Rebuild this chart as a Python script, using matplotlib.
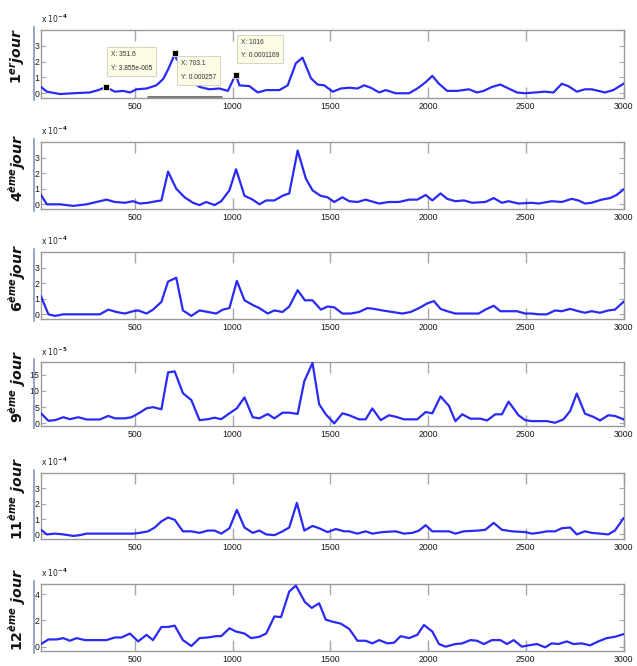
import matplotlib.pyplot as plt
from matplotlib.lines import Line2D

plt.rcParams['mathtext.fontset'] = 'custom'
plt.rcParams['mathtext.it'] = 'DejaVu Sans:italic:bold'
plt.rcParams['mathtext.rm'] = 'DejaVu Sans:bold'

# 1er jour (x 1e-4)
x_j1 = [20, 50, 117, 185, 270, 313, 352, 398, 440, 475, 509, 560, 610, 645, 670, 695, 703, 712,
        746, 789, 831, 882, 933, 976, 1001, 1016, 1035, 1086, 1129, 1172, 1240, 1282, 1324, 1358,
        1401, 1435, 1469, 1512, 1554, 1597, 1639, 1673, 1707, 1750, 1784, 1835, 1903, 1945, 1988,
        2022, 2056, 2098, 2149, 2209, 2251, 2285, 2327, 2370, 2412, 2455, 2497, 2548, 2599, 2642,
        2684, 2718, 2761, 2803, 2837, 2905, 2948, 3000]
y_j1 = [0.4, 0.1, -0.05, 0.0, 0.05, 0.2, 0.3855, 0.1, 0.15, 0.05, 0.25, 0.3, 0.5, 0.9, 1.5, 2.2, 2.57, 2.2,
        1.6, 0.8, 0.4, 0.25, 0.3, 0.15, 0.8, 1.169, 0.5, 0.45, 0.05, 0.2, 0.2, 0.5, 1.9, 2.25,
        0.95, 0.55, 0.5, 0.1, 0.3, 0.35, 0.3, 0.5, 0.35, 0.05, 0.2, 0.0, 0.0, 0.3, 0.7,
        1.1, 0.6, 0.15, 0.15, 0.25, 0.05, 0.15, 0.4, 0.55, 0.3, 0.05, 0.0, 0.05, 0.1, 0.05,
        0.6, 0.45, 0.1, 0.25, 0.25, 0.05, 0.2, 0.6]

# 4eme jour (x 1e-4)
x_j4 = [20, 50, 117, 185, 253, 304, 355, 398, 449, 491, 525, 568, 610, 636, 670, 712, 755, 797,
        831, 865, 908, 942, 984, 1018, 1061, 1103, 1137, 1172, 1214, 1256, 1290, 1333, 1375, 1409,
        1450, 1486, 1520, 1562, 1597, 1639, 1681, 1750, 1800, 1851, 1903, 1945, 1988, 2022, 2064,
        2098, 2140, 2183, 2226, 2293, 2336, 2378, 2412, 2463, 2531, 2565, 2633, 2684, 2735, 2769,
        2803, 2837, 2888, 2931, 2965, 3000]
y_j4 = [0.6, 0.0, 0.0, -0.1, 0.0, 0.15, 0.3, 0.15, 0.1, 0.2, 0.05, 0.1, 0.2, 0.25, 2.1, 1.0, 0.45, 0.1,
        -0.05, 0.15, -0.05, 0.2, 0.9, 2.25, 0.55, 0.3, 0.0, 0.25, 0.25, 0.55, 0.7, 3.45, 1.65, 0.9,
        0.55, 0.45, 0.15, 0.45, 0.2, 0.15, 0.3, 0.05, 0.15, 0.15, 0.3, 0.3, 0.6, 0.25, 0.7,
        0.35, 0.2, 0.25, 0.1, 0.15, 0.4, 0.1, 0.2, 0.05, 0.1, 0.05, 0.2, 0.15, 0.35, 0.25,
        0.05, 0.1, 0.3, 0.4, 0.6, 0.95]

# 6eme jour (x 1e-4)
x_j6 = [20, 58, 92, 134, 321, 364, 406, 449, 491, 517, 560, 593, 636, 670, 712, 746, 789, 831,
        874, 916, 950, 984, 1022, 1061, 1103, 1137, 1180, 1214, 1256, 1290, 1333, 1370, 1409, 1452,
        1486, 1520, 1562, 1605, 1647, 1690, 1724, 1766, 1817, 1869, 1911, 1954, 1996, 2030, 2064,
        2098, 2140, 2259, 2293, 2336, 2370, 2455, 2497, 2531, 2565, 2608, 2650, 2684, 2727, 2769,
        2803, 2837, 2880, 2922, 2956, 3000]
y_j6 = [1.15, 0.0, -0.1, 0.0, 0.0, 0.3, 0.15, 0.05, 0.2, 0.25, 0.05, 0.3, 0.8, 2.1, 2.35, 0.25, -0.1, 0.25,
        0.15, 0.05, 0.3, 0.4, 2.15, 0.9, 0.6, 0.4, 0.05, 0.25, 0.15, 0.5, 1.55, 0.9, 0.9, 0.3,
        0.5, 0.45, 0.05, 0.05, 0.15, 0.4, 0.35, 0.25, 0.15, 0.05, 0.15, 0.4, 0.7, 0.85, 0.35,
        0.2, 0.05, 0.05, 0.3, 0.55, 0.2, 0.2, 0.05, 0.05, 0.0, 0.0, 0.25, 0.2, 0.35, 0.2,
        0.1, 0.2, 0.1, 0.25, 0.3, 0.8]

# 9eme jour (x 1e-5)
x_j9 = [20, 58, 92, 134, 168, 211, 253, 321, 364, 398, 449, 483, 525, 560, 593, 636, 670, 704,
        746, 789, 831, 874, 908, 942, 984, 1022, 1061, 1103, 1137, 1180, 1214, 1256, 1290, 1333,
        1367, 1409, 1443, 1477, 1520, 1562, 1597, 1647, 1681, 1715, 1758, 1800, 1835, 1877, 1945,
        1988, 2022, 2064, 2107, 2140, 2175, 2217, 2268, 2302, 2344, 2378, 2412, 2463, 2497, 2531,
        2608, 2650, 2693, 2727, 2761, 2803, 2846, 2880, 2922, 2956, 3000]
y_j9 = [3.1, 0.8, 1.0, 1.9, 1.3, 1.9, 1.2, 1.2, 2.3, 1.55, 1.55, 1.9, 3.3, 4.65, 5.0, 4.35, 15.7, 16.0,
        9.3, 7.2, 1.0, 1.3, 1.75, 1.3, 3.1, 4.65, 8.0, 1.9, 1.55, 2.9, 1.55, 3.3, 3.3, 2.9,
        13.0, 18.6, 5.9, 2.8, 0.0, 3.1, 2.5, 1.25, 1.25, 4.6, 1.0, 2.5, 2.05, 1.25, 1.25,
        3.5, 3.1, 8.3, 5.4, 0.7, 2.8, 1.45, 1.45, 0.9, 2.8, 2.8, 6.7, 2.5, 1.0, 0.7,
        0.7, 0.2, 1.25, 3.8, 9.2, 3.0, 2.0, 0.9, 2.5, 2.3, 1.25]

# 11eme jour (x 1e-4)
x_j11 = [20, 50, 92, 134, 185, 219, 253, 491, 525, 568, 602, 636, 670, 704, 746, 789, 831, 874,
         908, 942, 984, 1022, 1061, 1103, 1137, 1172, 1214, 1256, 1290, 1329, 1367, 1409, 1443, 1486,
         1528, 1571, 1597, 1639, 1681, 1715, 1766, 1835, 1877, 1920, 1954, 1988, 2022, 2107, 2140,
         2183, 2259, 2293, 2336, 2378, 2429, 2497, 2531, 2565, 2608, 2650, 2684, 2727, 2761, 2803,
         2837, 2880, 2922, 2956, 3000]
y_j11 = [0.3, 0.0, 0.05, 0.0, -0.1, -0.05, 0.05, 0.05, 0.1, 0.2, 0.45, 0.85, 1.1, 0.95, 0.2, 0.2, 0.1, 0.25,
         0.25, 0.05, 0.4, 1.6, 0.45, 0.1, 0.25, 0.0, -0.05, 0.2, 0.45, 2.05, 0.25, 0.55, 0.4, 0.15,
         0.35, 0.2, 0.2, 0.05, 0.2, 0.05, 0.15, 0.2, 0.05, 0.1, 0.25, 0.6, 0.2, 0.2, 0.05,
         0.2, 0.25, 0.3, 0.75, 0.3, 0.2, 0.15, 0.05, 0.1, 0.2, 0.2, 0.4, 0.45, 0.0, 0.2,
         0.1, 0.05, 0.0, 0.25, 1.05]

# 12eme jour (x 1e-4)
x_j12 = [20, 58, 100, 134, 168, 202, 245, 287, 355, 398, 432, 475, 517, 560, 593, 636, 670, 704,
         746, 789, 831, 874, 916, 942, 984, 1018, 1061, 1095, 1137, 1172, 1214, 1248, 1290, 1324,
         1370, 1405, 1443, 1477, 1512, 1554, 1597, 1639, 1681, 1715, 1750, 1792, 1826, 1860, 1903,
         1945, 1979, 2022, 2056, 2090, 2140, 2175, 2217, 2251, 2285, 2327, 2370, 2404, 2438, 2480,
         2514, 2557, 2599, 2633, 2667, 2710, 2744, 2786, 2829, 2871, 2914, 2956, 3000]
y_j12 = [0.2, 0.55, 0.55, 0.65, 0.45, 0.65, 0.5, 0.5, 0.5, 0.7, 0.7, 1.0, 0.4, 0.9, 0.5, 1.5, 1.5, 1.6,
         0.5, 0.05, 0.65, 0.7, 0.8, 0.8, 1.4, 1.15, 1.0, 0.65, 0.75, 1.0, 2.3, 2.25, 4.2, 4.65,
         3.4, 2.95, 3.3, 2.05, 1.9, 1.75, 1.35, 0.45, 0.45, 0.25, 0.5, 0.25, 0.3, 0.8, 0.65,
         0.9, 1.65, 1.15, 0.2, 0.0, 0.2, 0.25, 0.5, 0.45, 0.2, 0.5, 0.5, 0.2, 0.5, 0.0,
         0.1, 0.2, -0.05, 0.25, 0.2, 0.4, 0.2, 0.25, 0.1, 0.4, 0.65, 0.75, 0.95]

day_labels = [r'$\mathit{1^{er}jour}$', r'$\mathit{4^{\`eme}jour}$', r'$\mathit{6^{\`eme}jour}$',
              r'$\mathit{9^{\`eme}\ jour}$', r'$\mathit{11^{\`eme}\ jour}$', r'$\mathit{12^{\`eme}\ jour}$']
scale_labels = [r'x 10$^{-4}$', r'x 10$^{-4}$', r'x 10$^{-4}$', r'x 10$^{-5}$', r'x 10$^{-4}$', r'x 10$^{-4}$']
y_limits = [(-0.3, 4.0), (-0.3, 4.0), (-0.3, 4.0), (-0.8, 18.9), (-0.3, 4.0), (-0.33, 4.77)]
y_ticks = [[0, 1, 2, 3], [0, 1, 2, 3], [0, 1, 2, 3], [0, 5, 10, 15], [0, 1, 2, 3], [0, 2, 4]]
x_ticks = [500, 1000, 1500, 2000, 2500, 3000]

# datatips on the first day
tip_x = [351.6, 703.1, 1016]
tip_y = [0.3855, 2.57, 1.169]
tip_text = ['X: 351.6\nY: 3.855e-005', 'X: 703.1\nY: 0.000257', 'X: 1016\nY: 0.0001169']
tip_pos = [(0.12, 0.69), (0.24, 0.555), (0.343, 0.875)]
scroll_bar_x = [560, 945]

series = [(x_j1, y_j1), (x_j4, y_j4), (x_j6, y_j6), (x_j9, y_j9), (x_j11, y_j11), (x_j12, y_j12)]
# (top, bottom) of each axes in pixels
rows_px = [(30, 98), (142, 209), (252, 319), (362, 426), (473, 539), (584, 651)]

W, H = 637, 666
fig = plt.figure(figsize=(W / 100, H / 100), dpi=100)
narrow = ['Liberation Sans Narrow', 'Liberation Sans']

for i, ((xs, ys), (top, bot)) in enumerate(zip(series, rows_px)):
    ax = fig.add_axes([41 / W, (H - bot) / H, 582.5 / W, (bot - top) / H])
    ax.plot(xs, ys, color='#2a2af5', lw=1.6, zorder=3)
    ax.set_xlim(20, 3000)
    ax.set_ylim(*y_limits[i])
    ax.set_xticks(x_ticks)
    ax.set_yticks(y_ticks[i])
    ax.tick_params(axis='x', direction='in', top=True, length=8, width=1, color='#a8a8a8',
                   pad=3, labelcolor='#1a1a1a')
    ax.tick_params(axis='y', direction='in', right=True, length=3.5, width=0.8, color='#a8a8a8',
                   pad=1.2, labelcolor='#1a1a1a')
    for lab in ax.get_xticklabels() + ax.get_yticklabels():
        lab.set_fontfamily(narrow)
        lab.set_fontsize(6.3)
    for sp in ax.spines.values():
        sp.set_color('#9a9a9a')
        sp.set_linewidth(1)
    # blue bar left of the tick labels
    ax.add_line(Line2D([-0.012, -0.012], [-0.03, 1.04], transform=ax.transAxes,
                       color='#7290b8', lw=1.1, clip_on=False))
    ax.text(0.0, 1.07, scale_labels[i], transform=ax.transAxes, fontsize=5.5,
            ha='left', va='bottom', color='#222222')
    fig.text(17.5 / W, 1 - ((top + bot) / 2 - 8) / H, day_labels[i], rotation=90,
             ha='center', va='center', fontsize=10.2, color='#111111')

    if i == 0:
        ax.plot(scroll_bar_x, [-0.22, -0.22], color='#7a7a7a', lw=2.2, solid_capstyle='butt', zorder=2)
        for tx, ty, tt, pos in zip(tip_x, tip_y, tip_text, tip_pos):
            ax.text(pos[0], pos[1], tt, transform=ax.transAxes, fontsize=4.8, ha='left', va='top',
                    family=narrow, color='#333333', linespacing=2.3, zorder=5,
                    bbox=dict(boxstyle='square,pad=0.6', fc='#fbfbe6', ec='#cfcfb4', lw=0.6))
            ax.plot(tx, ty, marker='s', ms=4.5, mfc='black', mec='#f0f0c8', mew=0.6, zorder=6,
                    clip_on=False)

fig.savefig('out.png', dpi=100, facecolor='white')
